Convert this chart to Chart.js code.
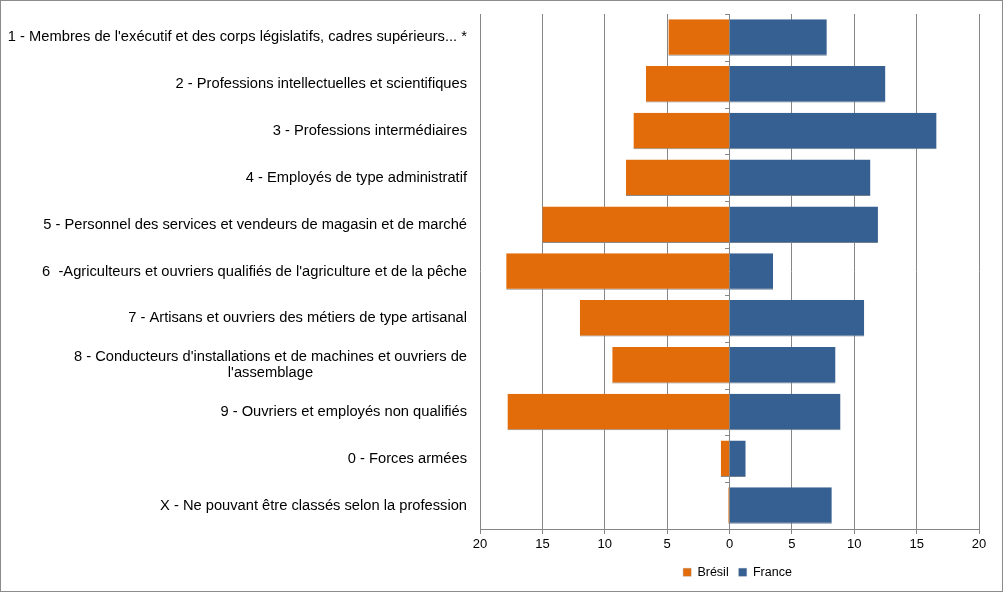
<!DOCTYPE html>
<html lang="fr">
<head>
<meta charset="utf-8">
<title>Brésil / France</title>
<script src="https://cdn.jsdelivr.net/npm/chart.js@4.4.1/dist/chart.umd.min.js"></script>
<style>
    html, body { margin: 0; padding: 0; background: #fff; }
    #wrap { position: relative; width: 1003px; height: 593px; }
</style>
</head>
<body>
<div id="wrap">
    <canvas id="chart" width="1003" height="593"></canvas>
</div>
<script>
// Data (percent of employed people)
const categories = [
    "1 - Membres de l'exécutif et des corps législatifs, cadres supérieurs... *",
    '2 - Professions intellectuelles et scientifiques',
    '3 - Professions intermédiaires',
    '4 - Employés de type administratif',
    '5 - Personnel des services et vendeurs de magasin et de marché',
    "6  -Agriculteurs et ouvriers qualifiés de l'agriculture et de la pêche",
    '7 - Artisans et ouvriers des métiers de type artisanal',
    ["8 - Conducteurs d'installations et de machines et ouvriers de", "l'assemblage"],
    '9 - Ouvriers et employés non qualifiés',
    '0 - Forces armées',
    'X - Ne pouvant être classés selon la profession'
];
const bresil = [4.9, 6.7, 7.7, 8.3, 15.0, 17.9, 12.0, 9.4, 17.8, 0.7, 0.1];
const france = [7.8, 12.5, 16.6, 11.3, 11.9, 3.5, 10.8, 8.5, 8.9, 1.3, 8.2];
const seriesNames = ['Brésil', 'France'];
const xMin = -20;
const xMax = 20;
const xStep = 5;

const FONT = "'Liberation Sans', Arial, sans-serif";
const GRID = '#868686';

// white background + outer frame
const framePlugin = {
    id: 'frame',
    beforeDraw(chart) {
        const ctx = chart.ctx;
        ctx.save();
        ctx.fillStyle = '#fff';
        ctx.fillRect(0, 0, chart.width, chart.height);
        ctx.strokeStyle = '#8c8c8c';
        ctx.lineWidth = 1;
        ctx.strokeRect(0.5, 0.5, chart.width - 1, chart.height - 2);
        ctx.restore();
    }
};

// category labels, right aligned, wrapped lines centred on each other
const categoryLabels = {
    id: 'categoryLabels',
    afterDraw(chart) {
        const ctx = chart.ctx;
        const yScale = chart.scales.y;
        const right = chart.chartArea.left - 13;
        ctx.save();
        ctx.font = '14.7px ' + FONT;
        ctx.fillStyle = '#000';
        ctx.textBaseline = 'middle';
        ctx.textAlign = 'center';
        chart.data.labels.forEach((label, i) => {
            const lines = Array.isArray(label) ? label : [label];
            const w = Math.max(...lines.map(l => ctx.measureText(l).width));
            const cy = yScale.getPixelForValue(i);
            const lh = 16.5;
            lines.forEach((line, j) => {
                const y = cy + (j - (lines.length - 1) / 2) * lh;
                ctx.fillText(line, right - w / 2, y);
            });
        });
        ctx.restore();
    }
};

// small tick marks on the zero line between categories
const zeroTicks = {
    id: 'zeroTicks',
    afterDatasetsDraw(chart) {
        const ctx = chart.ctx;
        const x0 = Math.round(chart.scales.x.getPixelForValue(0));
        const yScale = chart.scales.y;
        ctx.save();
        ctx.strokeStyle = GRID;
        ctx.lineWidth = 1;
        ctx.beginPath();
        for (let i = 0; i < categories.length; i++) {
            const y = Math.round(yScale.getPixelForValue(i - 0.5)) + 0.5;
            ctx.moveTo(x0 - 5, y);
            ctx.lineTo(x0, y);
        }
        ctx.stroke();
        ctx.restore();
    }
};

// centre the legend under the plot area
const legendShift = {
    id: 'legendShift',
    afterLayout(chart) {
        if (chart.legend) {
            chart.legend.left = 496;
            chart.legend.right = chart.chartArea.right;
        }
    }
};

const ctx = document.getElementById('chart');
new Chart(ctx, {
    type: 'bar',
    data: {
        labels: categories,
        datasets: [
            {
                label: seriesNames[0],
                data: bresil.map(v => -v),
                backgroundColor: '#e36c0a',
                borderColor: '#8a8a8a',
                borderWidth: { top: 0, right: 0, bottom: 1, left: 0 },
                borderSkipped: false
            },
            {
                label: seriesNames[1],
                data: france,
                backgroundColor: '#376092',
                borderColor: '#6f7f92',
                borderWidth: { top: 0, right: 0, bottom: 1, left: 0 },
                borderSkipped: false
            }
        ]
    },
    options: {
        indexAxis: 'y',
        responsive: false,
        animation: false,
        devicePixelRatio: 1,
        layout: {
            padding: { top: 14, right: 24, bottom: 4.5, left: 0 }
        },
        datasets: {
            bar: {
                barPercentage: 0.78,
                categoryPercentage: 1
            }
        },
        scales: {
            x: {
                stacked: true,
                min: xMin,
                max: xMax,
                grid: {
                    color: GRID,
                    lineWidth: 1,
                    tickLength: 5,
                    drawTicks: true
                },
                border: { display: true, color: GRID },
                ticks: {
                    stepSize: xStep,
                    color: '#000',
                    font: { family: FONT, size: 13 },
                    padding: 3,
                    callback: value => Math.abs(value)
                },
                afterFit(scale) {
                    scale.height = 27;
                }
            },
            y: {
                stacked: true,
                grid: { display: false },
                border: { display: false },
                ticks: { display: false },
                afterFit(scale) {
                    scale.width = 480;
                }
            }
        },
        plugins: {
            legend: {
                position: 'bottom',
                labels: {
                    boxWidth: 8,
                    boxHeight: 8,
                    padding: 10,
                    color: '#000',
                    font: { family: FONT, size: 12.5 }
                }
            },
            tooltip: { enabled: false }
        }
    },
    plugins: [framePlugin, categoryLabels, zeroTicks, legendShift]
});
</script>
</body>
</html>
